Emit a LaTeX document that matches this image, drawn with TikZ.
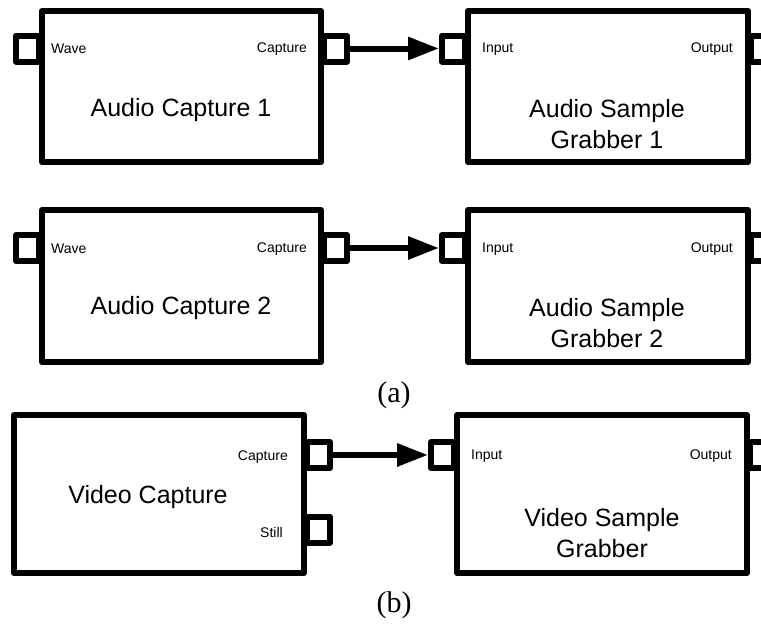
\documentclass[tikz,border=0pt]{standalone}
\usepackage{fontspec}
\setmainfont{Liberation Serif}
\setsansfont{Liberation Sans}
\usetikzlibrary{arrows.meta}
\tikzset{
  blk/.style={draw, line width=6pt, line join=round, inner sep=0pt, fill=white},
  pin/.style={draw, line width=6pt, line join=round, inner sep=0pt, minimum width=23pt, minimum height=26pt, fill=white},
  title/.style={font=\sffamily\fontsize{25}{31}\selectfont, align=center, inner sep=0pt},
  plabel/.style={font=\sffamily\fontsize{14}{16}\selectfont, inner sep=0pt},
  subcap/.style={font=\rmfamily\fontsize{30}{32}\selectfont, inner sep=0pt},
  conn/.style={line width=6pt, -{Triangle[length=31pt,width=22pt]}}
}
\begin{document}
\begin{tikzpicture}[x=1pt,y=-1pt]
\useasboundingbox (0,0) rectangle (761,624);
\clip (0,0) rectangle (761,624);

% ---- (a) first audio chain ----
\node[blk, minimum width=279pt, minimum height=151pt] (ac1) at (181.5,86.5) {};
\node[blk, minimum width=280pt, minimum height=151pt] (asg1) at (608,86.5) {};
\node[pin, anchor=east] (ac1wave) at ([xshift=3pt]ac1.west |- 0,48.5) {};
\node[pin, anchor=west] (ac1cap) at ([xshift=-3pt]ac1.east |- 0,48.5) {};
\node[pin, anchor=east] (asg1in) at ([xshift=3pt]asg1.west |- 0,48.5) {};
\node[pin, anchor=west] (asg1out) at ([xshift=-3pt]asg1.east |- 0,48.5) {};
\node[plabel, anchor=west] (l1) at (51,49) {Wave};
\node[plabel, anchor=east] (l2) at (307,49) {Capture};
\node[plabel, anchor=west] (l3) at (482,49) {Input};
\node[plabel, anchor=east] (l4) at (733,49) {Output};
\node[title] (t1) at (181,110) {Audio Capture 1};
\node[title] (t2) at (607,124) {Audio Sample\\Grabber 1};
\draw[conn] (ac1cap.east) -- (asg1in.west);

% ---- (a) second audio chain ----
\node[blk, minimum width=279pt, minimum height=152pt] (ac2) at (181.5,286) {};
\node[blk, minimum width=280pt, minimum height=152pt] (asg2) at (608,286) {};
\node[pin, anchor=east] (ac2wave) at ([xshift=3pt]ac2.west |- 0,248) {};
\node[pin, anchor=west] (ac2cap) at ([xshift=-3pt]ac2.east |- 0,248) {};
\node[pin, anchor=east] (asg2in) at ([xshift=3pt]asg2.west |- 0,248) {};
\node[pin, anchor=west] (asg2out) at ([xshift=-3pt]asg2.east |- 0,248) {};
\node[plabel, anchor=west] (l5) at (51,249) {Wave};
\node[plabel, anchor=east] (l6) at (307,249) {Capture};
\node[plabel, anchor=west] (l7) at (482,249) {Input};
\node[plabel, anchor=east] (l8) at (733,249) {Output};
\node[title] (t3) at (181,308) {Audio Capture 2};
\node[title] (t4) at (607,323) {Audio Sample\\Grabber 2};
\draw[conn] (ac2cap.east) -- (asg2in.west);

\node[subcap] (capa) at (394,395) {(a)};

% ---- (b) video chain ----
\node[blk, minimum width=290pt, minimum height=158pt] (vc) at (159,494) {};
\node[blk, minimum width=290pt, minimum height=158pt] (vsg) at (602,494) {};
\node[pin, anchor=west] (vccap) at ([xshift=-3pt]vc.east |- 0,455) {};
\node[pin, anchor=west] (vcstill) at ([xshift=-3pt]vc.east |- 0,529.5) {};
\node[pin, anchor=east] (vsgin) at ([xshift=3pt]vsg.west |- 0,455) {};
\node[pin, anchor=west] (vsgout) at ([xshift=-3pt]vsg.east |- 0,455) {};
\node[plabel, anchor=east] (l9) at (288,457) {Capture};
\node[plabel, anchor=east] (l10) at (283,532) {Still};
\node[plabel, anchor=west] (l11) at (471,456) {Input};
\node[plabel, anchor=east] (l12) at (732,456) {Output};
\node[title] (t5) at (148,497) {Video Capture};
\node[title] (t6) at (602,533) {Video Sample\\Grabber};
\draw[conn] (vccap.east) -- (vsgin.west);

\node[subcap] (capb) at (394,605) {(b)};
\end{tikzpicture}
\end{document}
